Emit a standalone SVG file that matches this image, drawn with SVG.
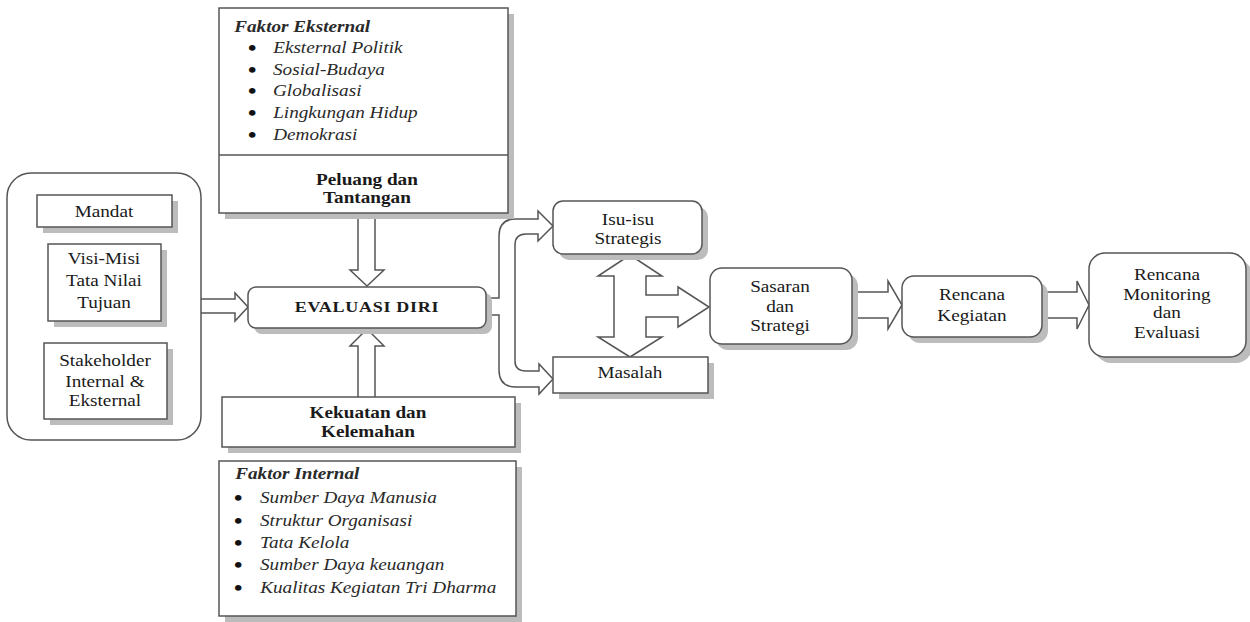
<svg xmlns="http://www.w3.org/2000/svg" width="1250" height="622" viewBox="0 0 1250 622">
<style>
.bg{fill:#fff}
.box{fill:#fff;stroke:#555;stroke-width:1.5}
.sh{fill:#bcbcbc}
.ar{fill:#fff;stroke:#555;stroke-width:1.5;stroke-linejoin:miter}
.t{font-family:"Liberation Serif","Times New Roman",serif;font-size:16px;fill:#1a1a1a;text-anchor:middle;transform-box:fill-box;transform-origin:center;transform:scaleX(1.2)}
.tl{font-family:"Liberation Serif","Times New Roman",serif;font-size:16px;fill:#1a1a1a;text-anchor:start;transform-box:fill-box;transform-origin:left center;transform:scaleX(1.2)}
.b{font-weight:bold}
.i{font-style:italic;fill:#2a2a2a}
.bu{font-size:20px;font-weight:bold;fill:#111}
.ev{font-size:15px;transform:scaleX(1.2);letter-spacing:0.6px}
</style>
<rect class="bg" x="0" y="0" width="1250" height="622"/>

<g id="connectors">
  <path class="ar" d="M201,299 L235,299 L235,293 L248,307 L235,321 L235,313 L201,313"/>
  <path class="ar" d="M358,213 L358,270 L350,270 L367,286 L384,270 L375,270 L375,213"/>
  <path class="ar" d="M358,397 L358,346 L350,346 L367,329 L384,346 L375,346 L375,397"/>
  <path class="ar" d="M486,298 L499,298 L499,236 Q499,219 516,219 L538,219 L538,211 L553,226 L538,241 L538,234 L526,234 Q515,234 515,245 L515,361 Q515,371 526,371 L539,371 L539,364 L553,379 L539,394 L539,387 L516,387 Q499,387 499,370 L499,315 L486,315"/>
  <path class="ar" d="M630,255 L662,276 L646,276 L646,295 L678,295 L678,287 L709,307 L678,327 L678,317 L646,317 L646,337 L662,337 L630,357 L598,337 L614,337 L614,276 L598,276 Z"/>
  <path class="ar" d="M852,292 L888,292 L888,281 L902,305 L888,329 L888,318 L852,318"/>
  <path class="ar" d="M1042,292 L1077,292 L1077,281 L1089,305 L1077,329 L1077,318 L1042,318"/>
</g>

<g id="left-group">
  <rect class="box" x="7" y="173" width="194" height="267" rx="24"/>
</g>
<g id="mandat">
  <rect class="sh" x="43" y="201" width="135" height="32"/>
  <rect class="box" x="37" y="195" width="135" height="32"/>
  <text class="t" x="104" y="217">Mandat</text>
</g>
<g id="visi-misi">
  <rect class="sh" x="54" y="250" width="113" height="77"/>
  <rect class="box" x="48" y="244" width="113" height="77"/>
  <text class="t" x="104" y="264">Visi-Misi</text>
  <text class="t" x="104" y="286">Tata Nilai</text>
  <text class="t" x="104" y="308">Tujuan</text>
</g>
<g id="stakeholder">
  <rect class="sh" x="50" y="349" width="123" height="76"/>
  <rect class="box" x="44" y="343" width="123" height="76"/>
  <text class="t" x="105" y="366">Stakeholder</text>
  <text class="t" x="105" y="387">Internal &amp;</text>
  <text class="t" x="105" y="406">Eksternal</text>
</g>

<g id="faktor-eksternal">
  <rect class="sh" x="225" y="14" width="289" height="205"/>
  <rect class="box" x="219" y="8" width="289" height="205"/>
  <line x1="219" y1="155" x2="508" y2="155" stroke="#555" stroke-width="1.5"/>
  <text class="tl b i" x="234" y="32">Faktor Eksternal</text>
  <text class="tl bu" x="248" y="55">•</text>
  <text class="tl i" x="273" y="53">Eksternal Politik</text>
  <text class="tl bu" x="248" y="77">•</text>
  <text class="tl i" x="273" y="75">Sosial-Budaya</text>
  <text class="tl bu" x="248" y="98">•</text>
  <text class="tl i" x="273" y="96">Globalisasi</text>
  <text class="tl bu" x="248" y="120">•</text>
  <text class="tl i" x="273" y="118">Lingkungan Hidup</text>
  <text class="tl bu" x="248" y="142">•</text>
  <text class="tl i" x="273" y="140">Demokrasi</text>
  <text class="t b" x="367" y="185">Peluang dan</text>
  <text class="t b" x="367" y="203">Tantangan</text>
</g>

<g id="evaluasi-diri">
  <rect class="sh" x="254" y="293" width="238" height="41" rx="8"/>
  <rect class="box" x="248" y="287" width="238" height="41" rx="8"/>
  <text class="t b ev" x="367" y="312">EVALUASI DIRI</text>
</g>

<g id="kekuatan">
  <rect class="sh" x="228" y="403" width="293" height="50"/>
  <rect class="box" x="222" y="397" width="293" height="50"/>
  <text class="t b" x="368" y="418">Kekuatan dan</text>
  <text class="t b" x="368" y="437">Kelemahan</text>
</g>

<g id="faktor-internal">
  <rect class="sh" x="225" y="467" width="297" height="155"/>
  <rect class="box" x="219" y="461" width="297" height="155"/>
  <text class="tl b i" x="235" y="479">Faktor Internal</text>
  <text class="tl bu" x="234" y="505">•</text>
  <text class="tl i" x="260" y="503">Sumber Daya Manusia</text>
  <text class="tl bu" x="234" y="528">•</text>
  <text class="tl i" x="260" y="526">Struktur Organisasi</text>
  <text class="tl bu" x="234" y="550">•</text>
  <text class="tl i" x="260" y="548">Tata Kelola</text>
  <text class="tl bu" x="234" y="572">•</text>
  <text class="tl i" x="260" y="570">Sumber Daya keuangan</text>
  <text class="tl bu" x="234" y="595">•</text>
  <text class="tl i" x="260" y="593">Kualitas Kegiatan Tri Dharma</text>
</g>

<g id="isu-isu">
  <rect class="sh" x="559" y="207" width="149" height="53" rx="10"/>
  <rect class="box" x="553" y="201" width="149" height="53" rx="10"/>
  <text class="t" x="628" y="225">Isu-isu</text>
  <text class="t" x="628" y="244">Strategis</text>
</g>

<g id="masalah">
  <rect class="sh" x="559" y="363" width="155" height="36"/>
  <rect class="box" x="553" y="357" width="155" height="36"/>
  <text class="t" x="630" y="378">Masalah</text>
</g>

<g id="sasaran">
  <rect class="sh" x="716" y="274" width="142" height="76" rx="12"/>
  <rect class="box" x="710" y="268" width="142" height="76" rx="12"/>
  <text class="t" x="780" y="292">Sasaran</text>
  <text class="t" x="780" y="312">dan</text>
  <text class="t" x="780" y="331">Strategi</text>
</g>

<g id="rencana-kegiatan">
  <rect class="sh" x="908" y="282" width="140" height="61" rx="12"/>
  <rect class="box" x="902" y="276" width="140" height="61" rx="12"/>
  <text class="t" x="972" y="300">Rencana</text>
  <text class="t" x="972" y="321">Kegiatan</text>
</g>

<g id="rencana-monitoring">
  <rect class="sh" x="1095" y="259" width="157" height="104" rx="16"/>
  <rect class="box" x="1089" y="253" width="157" height="104" rx="16"/>
  <text class="t" x="1167" y="280">Rencana</text>
  <text class="t" x="1167" y="300">Monitoring</text>
  <text class="t" x="1167" y="318">dan</text>
  <text class="t" x="1167" y="338">Evaluasi</text>
</g>
</svg>
